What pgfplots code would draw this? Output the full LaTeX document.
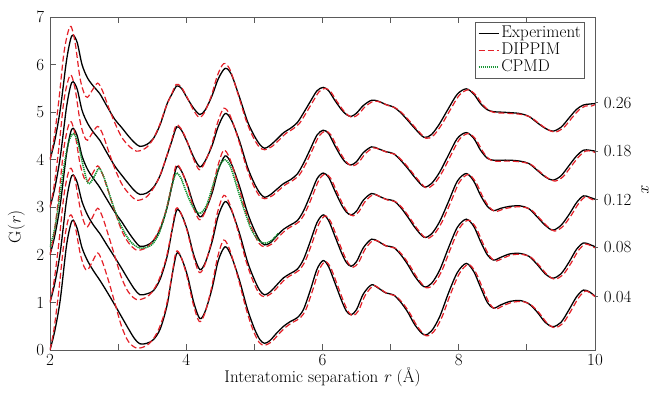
\documentclass[border=0pt]{standalone}
\usepackage{pgfplots}
\pgfplotsset{compat=1.18}
\usepackage{pgfplotstable}
\definecolor{dred}{RGB}{228,32,40}
\definecolor{dgreen}{RGB}{25,150,55}
\definecolor{axgray}{RGB}{90,90,90}

\pgfplotstableread{
r b0 b1 b2 b3 b4
2.00 0.00 1.00 2.00 3.00 4.00
2.07 0.40 1.40 2.40 3.40 4.40
2.15 1.05 2.05 3.05 4.05 5.05
2.24 2.17 3.12 4.10 5.08 6.06
2.30 2.62 3.58 4.56 5.54 6.52
2.34 2.73 3.68 4.66 5.64 6.62
2.40 2.55 3.52 4.50 5.48 6.46
2.47 2.15 3.12 4.08 5.04 6.00
2.55 1.88 2.84 3.80 4.77 5.72
2.64 1.66 2.62 3.60 4.57 5.54
2.73 1.47 2.45 3.42 4.41 5.39
2.83 1.24 2.22 3.18 4.16 5.14
2.95 0.95 1.95 2.90 3.87 4.85
3.05 0.70 1.72 2.70 3.68 4.68
3.15 0.45 1.48 2.48 3.50 4.50
3.24 0.24 1.28 2.30 3.35 4.36
3.32 0.13 1.16 2.18 3.27 4.28
3.42 0.14 1.18 2.20 3.30 4.32
3.52 0.22 1.25 2.30 3.42 4.45
3.62 0.45 1.50 2.55 3.68 4.75
3.72 0.95 1.97 3.00 4.10 5.18
3.79 1.55 2.50 3.45 4.40 5.38
3.86 2.03 2.94 3.85 4.69 5.55
3.93 1.93 2.85 3.76 4.62 5.50
4.02 1.55 2.50 3.45 4.35 5.28
4.11 1.00 2.00 3.05 4.05 5.08
4.20 0.66 1.69 2.80 3.85 4.95
4.28 0.82 1.84 2.93 3.98 5.05
4.38 1.30 2.28 3.30 4.30 5.35
4.47 1.88 2.82 3.78 4.70 5.70
4.57 2.17 3.12 4.08 4.97 5.92
4.66 1.98 2.95 3.92 4.84 5.80
4.78 1.47 2.46 3.45 4.40 5.32
4.90 0.85 1.85 2.88 3.84 4.80
5.00 0.45 1.48 2.52 3.50 4.50
5.08 0.22 1.25 2.30 3.30 4.32
5.15 0.14 1.16 2.21 3.21 4.24
5.23 0.20 1.22 2.25 3.26 4.30
5.33 0.36 1.37 2.40 3.38 4.43
5.43 0.50 1.52 2.54 3.50 4.57
5.53 0.60 1.61 2.63 3.58 4.66
5.63 0.68 1.70 2.72 3.70 4.78
5.72 0.85 1.90 2.92 3.92 4.98
5.82 1.25 2.28 3.25 4.22 5.22
5.92 1.70 2.68 3.60 4.52 5.45
6.01 1.88 2.84 3.72 4.62 5.52
6.09 1.75 2.72 3.63 4.55 5.45
6.18 1.42 2.40 3.35 4.30 5.25
6.28 1.04 2.04 3.05 4.05 5.05
6.35 0.82 1.84 2.90 3.93 4.95
6.42 0.74 1.76 2.84 3.89 4.91
6.50 0.85 1.86 2.92 3.96 4.98
6.60 1.18 2.15 3.15 4.15 5.14
6.72 1.37 2.33 3.29 4.27 5.25
6.82 1.30 2.28 3.24 4.23 5.23
6.93 1.20 2.19 3.17 4.17 5.16
7.04 1.16 2.16 3.14 4.13 5.11
7.14 1.02 2.02 3.01 4.00 5.00
7.25 0.80 1.80 2.80 3.82 4.83
7.36 0.52 1.54 2.57 3.62 4.65
7.49 0.32 1.33 2.37 3.43 4.47
7.60 0.40 1.40 2.44 3.50 4.53
7.72 0.70 1.68 2.70 3.74 4.76
7.85 1.20 2.15 3.12 4.10 5.08
7.98 1.63 2.58 3.55 4.45 5.38
8.11 1.82 2.75 3.71 4.57 5.49
8.22 1.65 2.60 3.55 4.45 5.38
8.32 1.32 2.28 3.25 4.20 5.18
8.42 1.00 2.00 3.02 4.03 5.05
8.51 0.88 1.89 2.93 3.99 5.01
8.62 0.95 1.95 2.98 3.99 5.00
8.75 1.02 2.02 3.02 3.99 4.99
8.90 1.04 2.03 3.03 3.97 4.97
9.03 0.97 1.97 2.97 3.92 4.91
9.15 0.80 1.80 2.80 3.78 4.78
9.27 0.58 1.60 2.62 3.64 4.66
9.38 0.49 1.51 2.52 3.57 4.60
9.50 0.58 1.60 2.62 3.66 4.68
9.62 0.85 1.85 2.85 3.88 4.88
9.73 1.12 2.12 3.10 4.08 5.06
9.83 1.26 2.25 3.24 4.20 5.15
9.92 1.22 2.22 3.21 4.20 5.17
10.00 1.13 2.17 3.17 4.18 5.18
}\expdata

\pgfplotstableread{
r d0 d1 d2 d3 d4
2.00 0.00 1.00 2.00 3.00 4.00
2.06 0.45 1.45 2.45 3.45 4.45
2.13 1.25 2.25 3.25 4.25 5.25
2.20 2.20 3.20 4.20 5.20 6.20
2.26 2.70 3.68 4.66 5.64 6.66
2.31 2.84 3.82 4.80 5.78 6.80
2.37 2.60 3.56 4.52 5.48 6.45
2.44 2.05 3.00 3.92 4.82 5.72
2.50 1.75 2.68 3.62 4.50 5.40
2.55 1.68 2.59 3.54 4.41 5.31
2.62 1.85 2.78 3.70 4.56 5.46
2.70 2.04 2.98 3.87 4.70 5.61
2.77 1.85 2.80 3.70 4.55 5.45
2.86 1.45 2.40 3.32 4.18 5.10
2.95 1.00 1.98 2.92 3.82 4.78
3.05 0.50 1.52 2.52 3.50 4.48
3.15 0.18 1.22 2.26 3.30 4.30
3.27 0.04 1.06 2.10 3.15 4.18
3.40 0.08 1.10 2.14 3.20 4.24
3.50 0.20 1.22 2.27 3.36 4.40
3.60 0.45 1.48 2.52 3.62 4.70
3.70 0.88 1.90 2.92 4.02 5.10
3.78 1.48 2.45 3.42 4.38 5.36
3.85 2.06 2.97 3.88 4.72 5.58
3.92 1.97 2.88 3.80 4.66 5.54
4.01 1.55 2.52 3.48 4.40 5.32
4.10 0.98 2.00 3.02 4.04 5.06
4.19 0.60 1.63 2.74 3.79 4.89
4.27 0.76 1.78 2.88 3.93 5.00
4.37 1.30 2.28 3.30 4.30 5.35
4.46 1.95 2.90 3.85 4.78 5.78
4.55 2.31 3.25 4.20 5.08 6.02
4.64 2.10 3.06 4.02 4.94 5.90
4.76 1.52 2.50 3.48 4.45 5.38
4.88 0.86 1.86 2.88 3.86 4.82
4.98 0.42 1.45 2.50 3.48 4.48
5.07 0.16 1.19 2.24 3.25 4.27
5.15 0.10 1.12 2.17 3.18 4.21
5.26 0.18 1.20 2.23 3.24 4.28
5.36 0.34 1.35 2.38 3.36 4.41
5.46 0.48 1.50 2.52 3.48 4.55
5.56 0.58 1.59 2.61 3.56 4.64
5.66 0.66 1.68 2.70 3.68 4.76
5.75 0.83 1.88 2.90 3.90 4.96
5.85 1.23 2.26 3.23 4.20 5.20
5.95 1.68 2.66 3.58 4.50 5.43
6.04 1.86 2.82 3.70 4.60 5.50
6.12 1.73 2.70 3.61 4.53 5.43
6.21 1.40 2.38 3.33 4.28 5.23
6.31 1.02 2.02 3.03 4.03 5.03
6.38 0.80 1.82 2.88 3.91 4.93
6.45 0.72 1.74 2.82 3.87 4.89
6.53 0.83 1.84 2.90 3.94 4.96
6.63 1.16 2.13 3.13 4.13 5.12
6.75 1.35 2.31 3.27 4.25 5.23
6.85 1.28 2.26 3.22 4.21 5.21
6.96 1.18 2.17 3.15 4.15 5.14
7.07 1.14 2.14 3.12 4.11 5.09
7.17 1.00 2.00 2.99 3.98 4.98
7.28 0.78 1.78 2.78 3.80 4.81
7.39 0.50 1.52 2.55 3.60 4.63
7.52 0.30 1.31 2.35 3.41 4.45
7.63 0.38 1.38 2.42 3.48 4.51
7.75 0.68 1.66 2.68 3.72 4.74
7.88 1.18 2.13 3.10 4.08 5.06
8.01 1.61 2.56 3.53 4.43 5.36
8.14 1.80 2.73 3.69 4.55 5.47
8.25 1.63 2.58 3.53 4.43 5.36
8.35 1.30 2.26 3.23 4.18 5.16
8.45 0.98 1.98 3.00 4.01 5.03
8.54 0.86 1.87 2.91 3.97 4.99
8.65 0.93 1.93 2.96 3.97 4.98
8.78 1.00 2.00 3.00 3.97 4.97
8.93 1.02 2.01 3.01 3.95 4.95
9.06 0.95 1.95 2.95 3.90 4.89
9.18 0.78 1.78 2.78 3.76 4.76
9.30 0.56 1.58 2.60 3.62 4.64
9.41 0.47 1.49 2.50 3.55 4.58
9.53 0.56 1.58 2.60 3.64 4.66
9.65 0.83 1.83 2.83 3.86 4.86
9.76 1.10 2.10 3.08 4.06 5.04
9.86 1.24 2.23 3.22 4.18 5.13
9.95 1.18 2.18 3.17 4.18 5.13
10.00 1.12 2.15 3.14 4.15 5.16
}\dippim

\pgfplotstableread{
r g
2.00 2.17
2.07 2.55
2.14 3.20
2.21 3.90
2.28 4.40
2.35 4.55
2.42 4.30
2.49 3.85
2.56 3.50
2.64 3.62
2.72 3.82
2.80 3.60
2.90 3.15
3.00 2.75
3.10 2.45
3.20 2.25
3.30 2.15
3.40 2.15
3.50 2.22
3.60 2.45
3.70 2.90
3.78 3.40
3.85 3.71
3.92 3.62
4.00 3.32
4.10 3.00
4.20 2.87
4.30 3.05
4.40 3.50
4.50 3.90
4.57 4.00
4.65 3.85
4.75 3.40
4.85 2.95
4.95 2.55
5.05 2.32
5.15 2.24
5.25 2.30
5.35 2.45
}\cpmd

\begin{document}
\fontsize{17}{20}\selectfont
\begin{tikzpicture}
\begin{axis}[name=main,
  scale only axis, width=545pt, height=333pt,
  xmin=2, xmax=10, ymin=0, ymax=7,
  xtick={2,3,...,10}, xticklabels={2,,4,,6,,8,,10},
  ytick={0,1,...,7}, ytick pos=left,
  tick align=inside, major tick length=6pt,
  axis line style={axgray, line width=0.8pt},
  tick style={axgray, line width=0.8pt},
  /pgf/number format/assume math mode=true,
  tick label style={font=\fontsize{17}{20}\selectfont},
  xticklabel style={yshift=2pt},
  xlabel={Interatomic separation \textit{r} (Å)},
  ylabel={G(\textit{r})},
  label style={font=\fontsize{17}{20}\selectfont},
  ylabel style={at={(ticklabel cs:0.37)}},
  xlabel style={yshift=9pt},
  legend cell align=left,
  legend style={at={(rel axis cs:0.982,0.985)}, anchor=north east,
    draw=axgray, line width=0.8pt, font=\fontsize{17}{18}\selectfont,
    inner sep=2pt, row sep=-1.5pt},
  legend image code/.code={\draw[#1] (0pt,0pt) -- (20pt,0pt);},
]
\addplot[black, line width=1.3pt, smooth] table[x=r, y=b0] {\expdata};
\addlegendentry{Experiment}
\addplot[dred, line width=1.2pt, dash pattern=on 6pt off 3pt, smooth] table[x=r, y=d0] {\dippim};
\addlegendentry{DIPPIM}
\addplot[dgreen, line width=1.4pt, dash pattern=on 1pt off 1pt, smooth] table[x=r, y=g] {\cpmd};
\addlegendentry{CPMD}
\addplot[black, line width=1.3pt, smooth, forget plot] table[x=r, y=b1] {\expdata};
\addplot[black, line width=1.3pt, smooth, forget plot] table[x=r, y=b2] {\expdata};
\addplot[black, line width=1.3pt, smooth, forget plot] table[x=r, y=b3] {\expdata};
\addplot[black, line width=1.3pt, smooth, forget plot] table[x=r, y=b4] {\expdata};
\addplot[dred, line width=1.2pt, dash pattern=on 6pt off 3pt, smooth, forget plot] table[x=r, y=d1] {\dippim};
\addplot[dred, line width=1.2pt, dash pattern=on 6pt off 3pt, smooth, forget plot] table[x=r, y=d2] {\dippim};
\addplot[dred, line width=1.2pt, dash pattern=on 6pt off 3pt, smooth, forget plot] table[x=r, y=d3] {\dippim};
\addplot[dred, line width=1.2pt, dash pattern=on 6pt off 3pt, smooth, forget plot] table[x=r, y=d4] {\dippim};
\addplot[dgreen, line width=1.4pt, dash pattern=on 1pt off 1pt, smooth, forget plot] table[x=r, y=g] {\cpmd};
\end{axis}
\begin{axis}[
  scale only axis, width=545pt, height=333pt,
  xmin=2, xmax=10, ymin=0, ymax=7,
  hide x axis, axis y line*=right,
  axis line style={axgray, line width=0.8pt},
  ytick={1.12,2.16,3.16,4.18,5.20},
  yticklabels={0.04,0.08,0.12,0.18,0.26},
  tick align=outside, major tick length=3pt,
  tick style={axgray, line width=0.8pt},
  tick label style={font=\fontsize{17}{20}\selectfont},
  ylabel={\textit{x}},
  every axis y label/.style={at={(rel axis cs:1,0.48)}, anchor=center,
    xshift=50pt, rotate=90, font=\fontsize{17}{20}\selectfont},
]
\end{axis}
\pgfresetboundingbox
\path ([shift={(-50pt,-42pt)}]main.south west) rectangle ++(653pt,392pt);
\end{tikzpicture}
\end{document}
